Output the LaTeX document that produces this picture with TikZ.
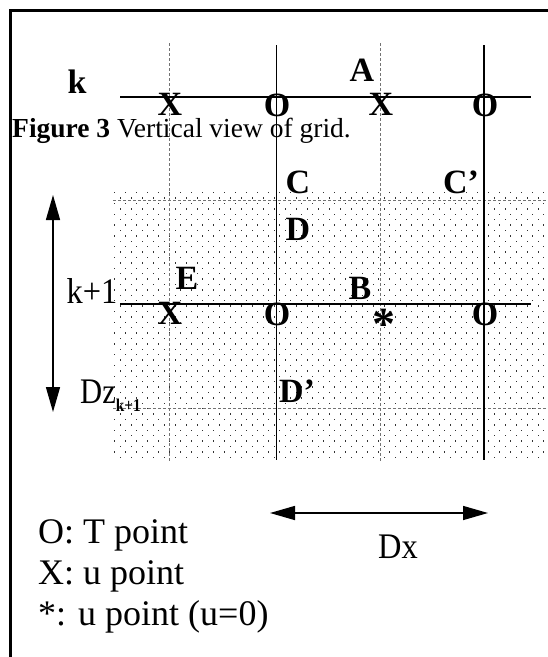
\documentclass[tikz,border=0pt]{standalone}
\usepackage{fontspec}
\setmainfont{Liberation Serif}
\usetikzlibrary{arrows.meta}
\begin{document}
\begin{tikzpicture}[x=1pt,y=-1pt,
  lbl/.style={font=\fontsize{34}{34}\selectfont\bfseries, inner sep=0pt},
  txt/.style={font=\fontsize{36}{36}\selectfont, inner sep=0pt},
  gridline/.style={line width=1.4pt},
  dashline/.style={line width=0.8pt, black!55, dash pattern=on 3pt off 2pt},
  dblarrow/.style={line width=1.5pt, {Triangle[length=25pt,width=14pt]}-{Triangle[length=25pt,width=14pt]}},
  frameline/.style={line width=3pt}
]
\useasboundingbox (0,0) rectangle (548,657);
% dotted region
\foreach \r in {0,...,49} {
  \pgfmathsetmacro\yy{192+5.4*\r}
  \pgfmathsetmacro\xo{114+mod(\r,2)*5.5}
  \foreach \c in {0,...,39} {
    \fill[black!80] (\xo+11*\c,\yy) rectangle ++(1.3,1.3);
  }
}
% frame
\coordinate (fb) at (10,660);
\coordinate (ftl) at (10,10);
\coordinate (fr) at (551,10);
\draw[frameline] (fb) -- (ftl) -- (fr);
% coordinates of grid lines
\coordinate (hk1) at (120,97);  \coordinate (hk2) at (531,97);
\coordinate (hl1) at (120,304); \coordinate (hl2) at (531,304);
\coordinate (v1t) at (276.5,45); \coordinate (v1b) at (276.5,460);
\coordinate (v2t) at (484,45);   \coordinate (v2b) at (484,460);
\coordinate (d1t) at (169.5,43); \coordinate (d1b) at (169.5,462);
\coordinate (d2t) at (380,43);   \coordinate (d2b) at (380,462);
\coordinate (h1a) at (113,200);  \coordinate (h1b) at (548,200);
\coordinate (h2a) at (113,408);  \coordinate (h2b) at (548,408);
\draw[dashline] (d1t) -- (d1b);
\draw[dashline] (d2t) -- (d2b);
\draw[dashline] (h1a) -- (h1b);
\draw[dashline] (h2a) -- (h2b);
\draw[gridline] (hk1) -- (hk2);
\draw[gridline] (hl1) -- (hl2);
\draw[gridline] (v1t) -- (v1b);
\draw[gridline] (v2t) -- (v2b);
% arrows
\coordinate (za) at (53,195);
\coordinate (zb) at (53,412);
\draw[dblarrow] (za) -- (zb);
\coordinate (xa) at (270,513);
\coordinate (xb) at (488,513);
\draw[dblarrow] (xa) -- (xb);
% row k labels
\node[lbl] (k) at (77,82) {k};
\node[lbl] (X1) at (170,104) {X};
\node[lbl] (O1) at (277,105) {O};
\node[lbl] (A) at (362,70) {A};
\node[lbl] (X2) at (381,104) {X};
\node[lbl] (O2) at (485,105) {O};
% caption
\node[anchor=base west, inner sep=0pt, font=\fontsize{27.5}{27.5}\selectfont] (cap) at (12,137) {\textbf{Figure 3} Vertical view of grid.};
% upper labels
\node[lbl] (C) at (298,182) {C};
\node[lbl] (Cp) at (461,182) {C'};
\node[lbl] (D) at (298,229) {D};
\node[lbl] (E) at (187,278) {E};
\node[lbl] (B) at (360,288) {B};
% row k+1
\node[txt, xscale=0.9] (k1) at (92,291) {k+1};
\node[lbl] (X3) at (170,313) {X};
\node[lbl] (O3) at (277,314) {O};
\node[lbl, font=\fontsize{46}{46}\selectfont\bfseries] (st) at (384,324) {*};
\node[lbl] (O4) at (485,314) {O};
\node[lbl] (Dp) at (297,391) {D'};
\node[txt, xscale=0.85, anchor=base west] (Dz) at (80,403) {Dz{\fontsize{18}{18}\selectfont\bfseries\raisebox{-8pt}{k+1}}};
% Dx
\node[txt, xscale=0.9] (Dx) at (398,547) {Dx};
% legend
\node[txt, anchor=base west] (L1) at (38,543) {O: T point};
\node[txt, anchor=base west] (L2) at (38,584) {X: u point};
\node[txt, anchor=base west] (L3) at (38,625) {*: u point (u=0)};
\end{tikzpicture}
\end{document}
